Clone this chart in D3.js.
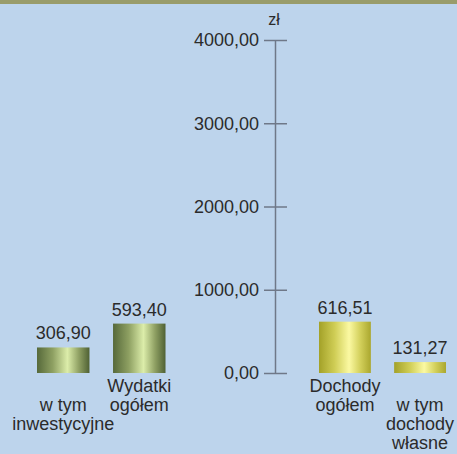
<!DOCTYPE html>
<html><head><meta charset="utf-8">
<script src="https://cdn.jsdelivr.net/npm/d3@7/dist/d3.min.js"></script>
<style>html,body{margin:0;padding:0;background:#bdd4ec;}svg{display:block;}</style>
</head><body>
<script>
const leftCategories = [["", "w tym", "inwestycyjne"], ["Wydatki", "ogółem"]];
const leftValues = [306.90, 593.40];
const rightCategories = [["Dochody", "ogółem"], ["", "w tym", "dochody", "własne"]];
const rightValues = [616.51, 131.27];
const tickValues = [0, 1000, 2000, 3000, 4000];
const unitLabel = "zł";

const W = 457, H = 454;
const svg = d3.select("body").append("svg").attr("width", W).attr("height", H);
const font = "'Liberation Sans', Arial, sans-serif";
const textColor = "#2b2b2b";

svg.append("rect").attr("width", W).attr("height", H).attr("fill", "#bdd4ec");
svg.append("rect").attr("width", W).attr("height", 4).attr("fill", "#999c6b");

const defs = svg.append("defs");
function grad(id, stops) {
  const g = defs.append("linearGradient").attr("id", id).attr("x1", "0%").attr("x2", "100%").attr("y1", "0%").attr("y2", "0%");
  stops.forEach(s => g.append("stop").attr("offset", s[0]).attr("stop-color", s[1]));
}
grad("olive", [["0%", "#56693a"], ["30%", "#8ea062"], ["58%", "#dcedaa"], ["80%", "#8fa063"], ["100%", "#4f6134"]]);
grad("yellow", [["0%", "#a3a128"], ["30%", "#cfcd55"], ["58%", "#fbf9a2"], ["80%", "#d2cf5a"], ["100%", "#aaa72e"]]);

const locale = d3.formatLocale({decimal: ",", thousands: " ", grouping: [3], currency: ["", " zł"]});
const fmt = locale.format(".2f");

const y = d3.scaleLinear().domain([0, 4000]).range([373, 40]);
const axisX = 275;

const xl = d3.scaleBand().domain(d3.range(leftValues.length)).range([37, 165.5]).paddingInner(0.31).paddingOuter(0);
const xr = d3.scaleBand().domain(d3.range(rightValues.length)).range([319, 446]).paddingInner(0.31).paddingOuter(0);

function drawGroup(values, cats, x, fill) {
  const g = svg.append("g");
  values.forEach((v, i) => {
    g.append("rect").attr("x", x(i)).attr("width", x.bandwidth())
      .attr("y", y(v)).attr("height", y(0) - y(v)).attr("fill", `url(#${fill})`);
    g.append("text").attr("x", x(i) + x.bandwidth() / 2).attr("y", y(v) - 8)
      .attr("text-anchor", "middle").attr("font-family", font).attr("font-size", 18)
      .attr("fill", textColor).text(fmt(v));
    const t = g.append("text").attr("text-anchor", "middle").attr("font-family", font)
      .attr("font-size", 18).attr("fill", textColor);
    cats[i].forEach((line, j) => {
      t.append("tspan").attr("x", x(i) + x.bandwidth() / 2).attr("y", y(0) + 18.5 + j * 19.3).text(line);
    });
  });
}
drawGroup(leftValues, leftCategories, xl, "olive");
drawGroup(rightValues, rightCategories, xr, "yellow");

const axis = d3.axisLeft(y).tickValues(tickValues).tickFormat(fmt).tickSizeInner(11).tickSizeOuter(0).tickPadding(5);
const ag = svg.append("g").attr("transform", `translate(${axisX},0)`).call(axis);
ag.select(".domain").attr("stroke", "#6f7888").attr("stroke-width", 1.5);
ag.selectAll(".tick line").attr("x1", 12).attr("stroke", "#6f7888").attr("stroke-width", 1.5);
ag.selectAll(".tick text").attr("font-family", font).attr("font-size", 18).attr("fill", textColor);

svg.append("text").attr("x", axisX - 1).attr("y", 25).attr("text-anchor", "middle")
  .attr("font-family", font).attr("font-size", 16).attr("fill", textColor).text(unitLabel);
</script>
</body></html>
